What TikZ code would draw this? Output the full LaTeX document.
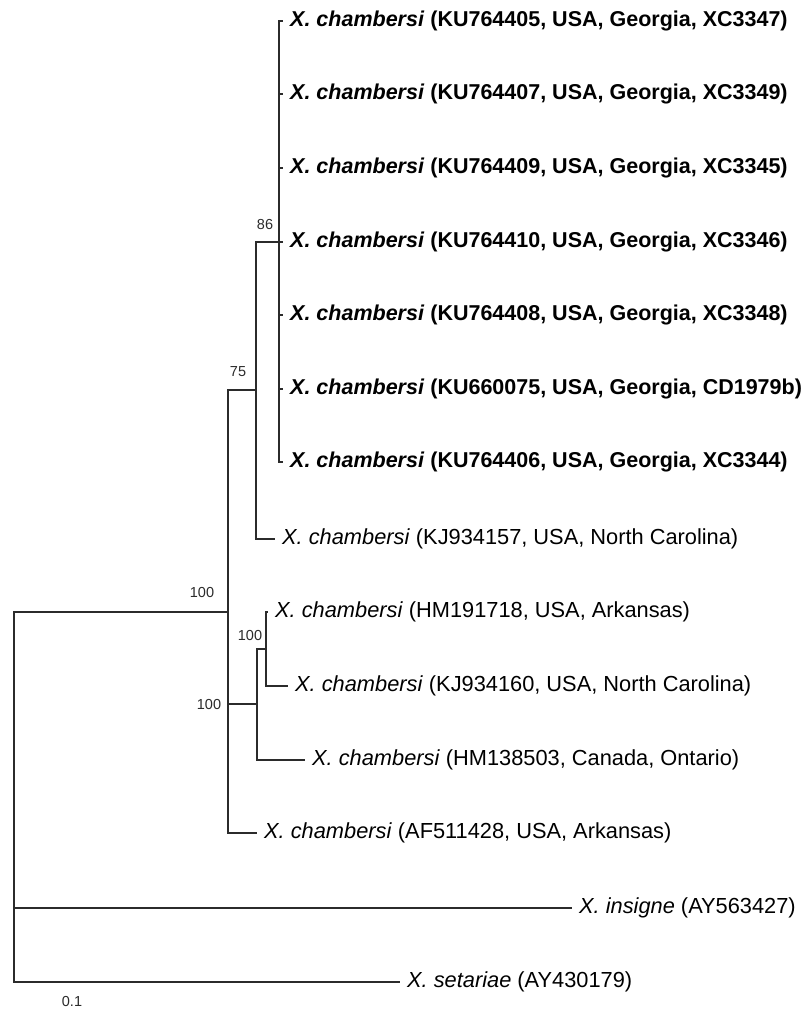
\documentclass[tikz,border=0pt]{standalone}
\usepackage{fontspec}
\setmainfont{Liberation Sans}
\usepackage{xcolor}
\definecolor{TreeInk}{HTML}{2B2B2B}

\begin{document}
\begin{tikzpicture}[
  x=1pt,y=-1pt,
  leaf/.style={anchor=west,inner xsep=7pt,inner ysep=0pt,text=black,
               font=\fontsize{21.8}{26}\selectfont},
  georgia/.style={leaf,font=\fontsize{21.5}{26}\selectfont\bfseries},
  boot/.style={inner sep=0pt,text=TreeInk,font=\fontsize{14.5}{17}\selectfont},
  branch/.style={line width=1.1pt,draw=TreeInk}
]
  \useasboundingbox (0,0) rectangle (810,1010);

  % internal nodes of the tree
  \coordinate (root) at (14,797);
  \coordinate (c100) at (228,612);
  \coordinate (c75)  at (256,390);
  \coordinate (c86)  at (279,242);
  \coordinate (cHM)  at (257,704);
  \coordinate (cAR)  at (266,649);

  % leaves
  \node[georgia] (ku405) at (283,21)  {\textit{X. chambersi} (KU764405, USA, Georgia, XC3347)};
  \node[georgia] (ku407) at (283,94)  {\textit{X. chambersi} (KU764407, USA, Georgia, XC3349)};
  \node[georgia] (ku409) at (283,168) {\textit{X. chambersi} (KU764409, USA, Georgia, XC3345)};
  \node[georgia] (ku410) at (283,242) {\textit{X. chambersi} (KU764410, USA, Georgia, XC3346)};
  \node[georgia] (ku408) at (283,315) {\textit{X. chambersi} (KU764408, USA, Georgia, XC3348)};
  \node[georgia] (ku075) at (283,389) {\textit{X. chambersi} (KU660075, USA, Georgia, CD1979b)};
  \node[georgia] (ku406) at (283,462) {\textit{X. chambersi} (KU764406, USA, Georgia, XC3344)};
  \node[leaf] (kj157) at (275,539) {\textit{X. chambersi} (KJ934157, USA, North Carolina)};
  \node[leaf] (hm718) at (268,612) {\textit{X. chambersi} (HM191718, USA, Arkansas)};
  \node[leaf] (kj160) at (288,686) {\textit{X. chambersi} (KJ934160, USA, North Carolina)};
  \node[leaf] (hm503) at (305,760) {\textit{X. chambersi} (HM138503, Canada, Ontario)};
  \node[leaf] (af428) at (257,833) {\textit{X. chambersi} (AF511428, USA, Arkansas)};
  \node[leaf] (insig) at (572,908) {\textit{X. insigne} (AY563427)};
  \node[leaf] (setar) at (400,982) {\textit{X. setariae} (AY430179)};

  % branches
  \draw[branch] (root) |- (c100);
  \draw[branch] (root) |- (insig.west);
  \draw[branch] (root) |- (setar.west);
  \draw[branch] (c100) |- (c75);
  \draw[branch] (c100) |- (cHM);
  \draw[branch] (c100) |- (af428.west);
  \draw[branch] (c75) |- (c86);
  \draw[branch] (c75) |- (kj157.west);
  \draw[branch] (c86) |- (ku405.west);
  \draw[branch] (c86) |- (ku407.west);
  \draw[branch] (c86) |- (ku409.west);
  \draw[branch] (c86) |- (ku410.west);
  \draw[branch] (c86) |- (ku408.west);
  \draw[branch] (c86) |- (ku075.west);
  \draw[branch] (c86) |- (ku406.west);
  \draw[branch] (cHM) |- (cAR);
  \draw[branch] (cHM) |- (hm503.west);
  \draw[branch] (cAR) |- (hm718.west);
  \draw[branch] (cAR) |- (kj160.west);

  % bootstrap values
  \node[boot] (b86)  at (265,225) {86};
  \node[boot] (b75)  at (238,372) {75};
  \node[boot] (b100) at (202,592) {100};
  \node[boot] (bAR)  at (250,635) {100};
  \node[boot] (bHM)  at (209,704) {100};

  % scale
  \node[boot] (scale) at (72,1001) {0.1};
\end{tikzpicture}
\end{document}
